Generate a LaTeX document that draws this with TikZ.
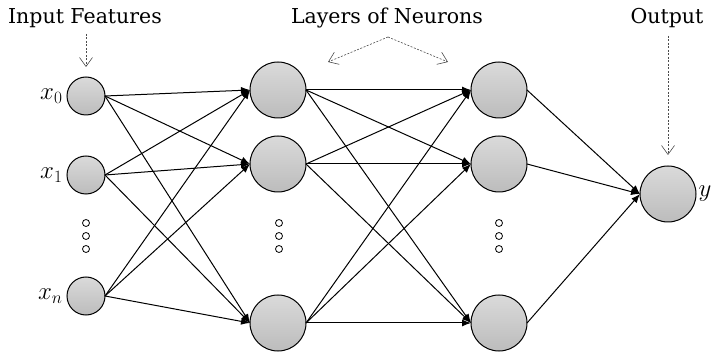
\documentclass[tikz,border=0pt]{standalone}
\usepackage{fontspec}
\setmainfont{DejaVu Serif}
\usetikzlibrary{arrows.meta,shadings}
\definecolor{cellTop}{HTML}{DADADA}
\definecolor{cellBot}{HTML}{BCBCBC}
\begin{document}
\begin{tikzpicture}[
            x=1pt,
            y=-1pt,
            neuron/.style={circle, draw, line width=1pt, top color=cellTop, bottom color=cellBot, inner sep=0pt, outer sep=0pt},
            small neuron/.style={neuron, minimum size=38pt},
            big neuron/.style={neuron, minimum size=56pt},
            gapdot/.style={circle, draw, line width=0.8pt, minimum size=7pt, inner sep=0pt},
            conn/.style={line width=1pt, -{Latex[length=9pt,width=7pt]}},
            hint/.style={draw=black!70, line width=0.6pt, dash pattern=on 2pt off 1.5pt, -{Straight Barb[length=9pt,width=13pt,line width=0.6pt]}},
            caption/.style={font=\fontsize{20.5}{23}\selectfont},
            varlabel/.style={font=\fontsize{25}{27}\selectfont}
        ]
        \useasboundingbox (0,0) rectangle (717,352);
        % input layer
        \node[small neuron] (in0) at (86,96) {};
        \node[small neuron] (in1) at (86,175) {};
        \node[small neuron] (inn) at (86,296) {};
        % hidden layers
        \foreach \col/\x in {1/278, 2/499} {
                \node[big neuron] (h\col1) at (\x,90) {};
                \node[big neuron] (h\col2) at (\x,164) {};
                \node[big neuron] (h\col n) at (\x,323) {};
            }
        % output
        \node[big neuron] (out) at (668,194) {};
        % gaps
        \foreach \col/\x in {a/86, b/279, c/499} {
                \foreach \i/\y in {1/223, 2/236, 3/249} {
                        \node[gapdot] (dot\col\i) at (\x,\y) {};
                    }
            }
        % connections
        \foreach \a in {in0,in1,inn} {
                \foreach \b in {h11,h12,h1n} {
                        \draw[conn] (\a.east) -- (\b.west);
                    }
            }
        \foreach \a in {h11,h12,h1n} {
                \foreach \b in {h21,h22,h2n} {
                        \draw[conn] (\a.east) -- (\b.west);
                    }
            }
        \foreach \a in {h21,h22,h2n} {
                \draw[conn] (\a.east) -- (out.west);
            }
        % variable labels
        \node[varlabel, anchor=east] (lx0) at ([xshift=-1pt]in0.west) {$x_0$};
        \node[varlabel, anchor=east] (lx1) at ([xshift=-1pt]in1.west) {$x_1$};
        \node[varlabel, anchor=east] (lxn) at ([xshift=-1pt]inn.west) {$x_n$};
        \node[varlabel, anchor=west] (ly) at ([xshift=-1pt]out.east) {$y$};
        % captions
        \node[caption] (capin) at (85,18) {Input Features};
        \node[caption] (caphid) at (387,18) {Layers of Neurons};
        \node[caption] (capout) at (667,18) {Output};
        \coordinate (apex) at (388,37);
        \coordinate (tipin) at (86,67);
        \coordinate (tipl) at (328,62);
        \coordinate (tipr) at (448,62);
        \coordinate (tipout) at (668,155);
        \draw[hint] (86,34) -- (tipin);
        \draw[hint] (apex) -- (tipl);
        \draw[hint] (apex) -- (tipr);
        \draw[hint] (668,36) -- (tipout);
    \end{tikzpicture}
\end{document}
